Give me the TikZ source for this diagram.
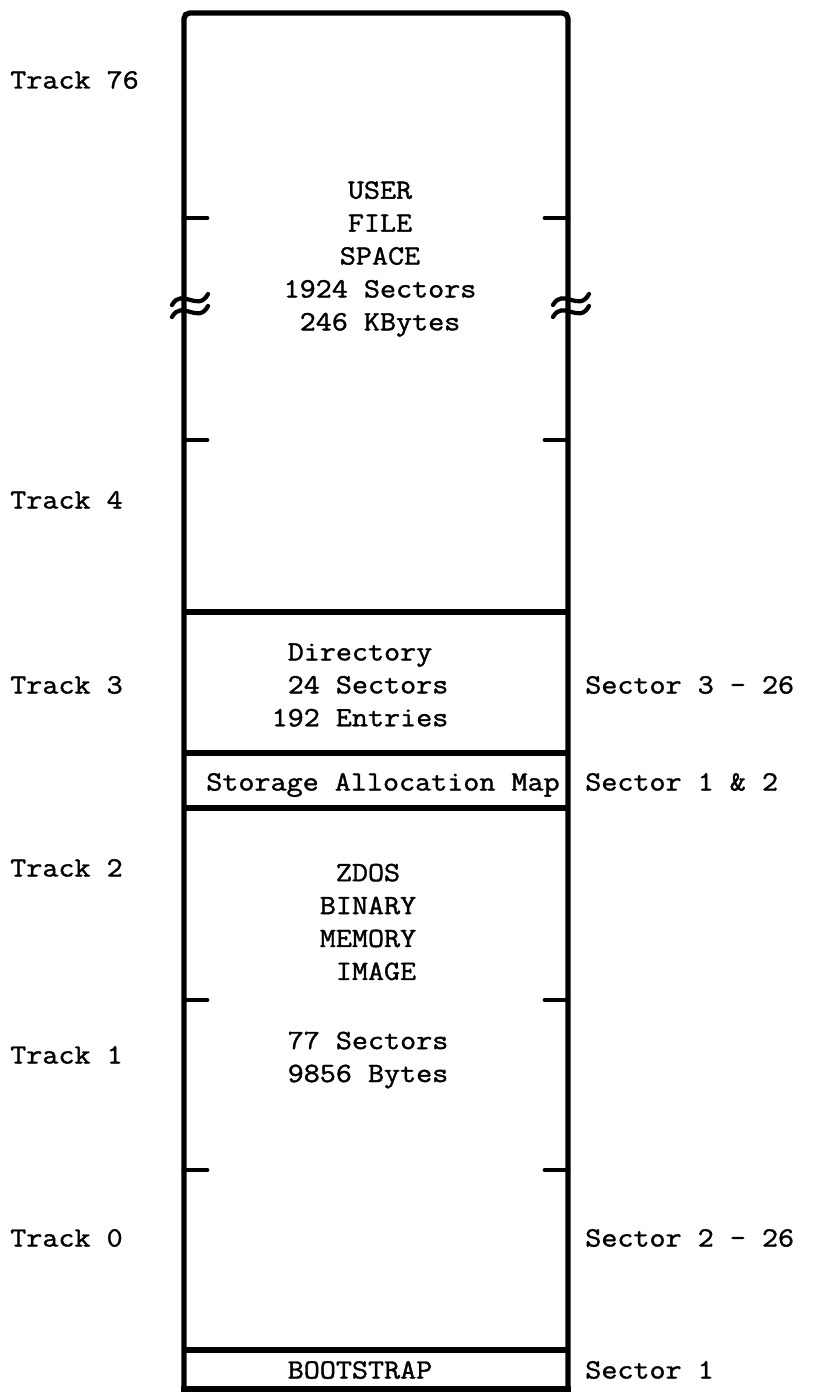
\documentclass[tikz,border=0pt]{standalone}
\usepackage{fontspec}
\setmonofont{Latin Modern Mono}[FakeStretch=1.12,FakeBold=1.4]
\usepackage{tikz}
\usetikzlibrary{positioning}
\tikzset{
  wall/.style={line width=3.8pt},
  notch/.style={line width=3.4pt, line cap=round},
  brk/.style={line width=3pt, line cap=round},
  lbl/.style={font=\ttfamily\fontsize{19.8}{23.4}\selectfont, inner sep=0pt},
  side/.style={lbl, anchor=base west},
  blk/.style={lbl, align=center}
}

\begin{document}
\begin{tikzpicture}[x=0.025cm, y=-0.025cm]
\useasboundingbox (0,0) rectangle (812,1393);
% the disk, track 76 at the top
\coordinate (bl) at (184,1389);
\coordinate (tl) at (184,13);
\coordinate (tr) at (568,13);
\coordinate (br) at (568,1389);
\draw[wall, rounded corners=4pt] (bl) -- (tl) -- (tr) -- (br);
\draw[wall, line cap=rect] (bl) -- (br);
\foreach \y/\n in {612/dir, 753/sam, 808/img, 1350/boot}
  \draw[wall] (184,\y) coordinate (\n-l) -- (568,\y) coordinate (\n-r);
% track marks
\foreach \y in {218,440,1000,1170} {
  \draw[notch] (184,\y) -- ++(23,0);
  \draw[notch] (568,\y) -- ++(-23,0);
}
% break in the user area
\foreach \x in {190,571}
  \foreach \d in {-6,6}
    \draw[brk] (\x-18,306+\d+5) .. controls (\x-8,306+\d-13) and (\x+8,306+\d+13) .. (\x+18,306+\d-6);

\node[blk] (user) at (380,259) {USER\\FILE\\SPACE\\1924 Sectors\\246 KBytes};
\node[blk, align=left] (dir) at (360,685) {~Directory\\~24 Sectors\\192 Entries};
\node[lbl, anchor=base] (map) at (383,790.5) {Storage Allocation Map};
\node[blk] (zdos) at (368,922) {ZDOS\\BINARY\\MEMORY\\~IMAGE};
\node[blk] (size) at (368,1060) {77 Sectors\\9856 Bytes};
\node[lbl, anchor=base] (bootstrap) at (360,1378.5) {BOOTSTRAP};

\foreach \y/\t [count=\i] in {88.5/76, 508.5/4, 693.5/3, 876.5/2, 1063.5/1, 1246.5/0}
  \node[side] (trk\i) at (10,\y) {Track \t};
\node[side] (sec-dir) at (585,693.5) {Sector 3 - 26};
\node[side] (sec-map) at (585,790.5) {Sector 1 \& 2};
\node[side] (sec-img) at (585,1246.5) {Sector 2 - 26};
\node[side] (sec-boot) at (585,1378.5) {Sector 1};
\end{tikzpicture}
\end{document}
